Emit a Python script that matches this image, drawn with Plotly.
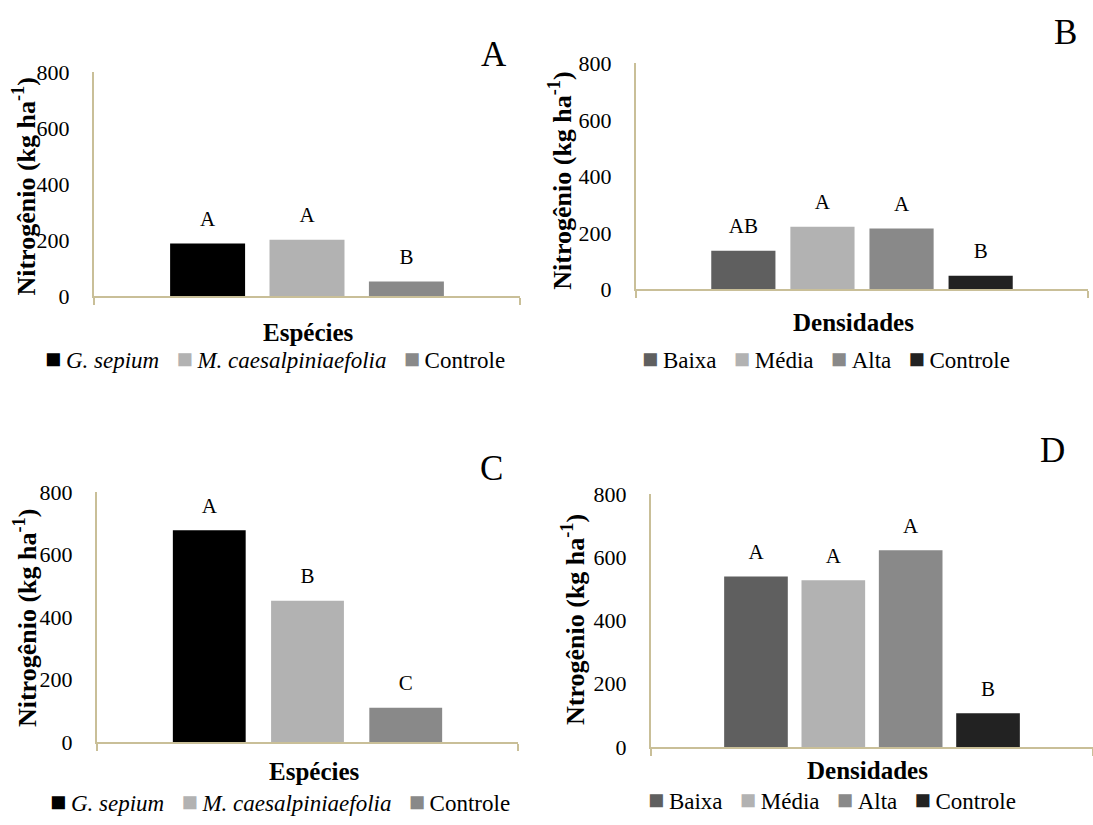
import plotly.graph_objects as go

# ---------------- data ----------------
especies = ["G. sepium", "M. caesalpiniaefolia", "Controle"]
especies_italic = [True, True, False]
densidades = ["Baixa", "Média", "Alta", "Controle"]

n_A = [188, 201, 52]
letters_A = ["A", "A", "B"]
n_B = [137, 222, 215, 48]
letters_B = ["AB", "A", "A", "B"]
n_C = [678, 452, 110]
letters_C = ["A", "B", "C"]
n_D = [539, 527, 622, 107]
letters_D = ["A", "A", "A", "B"]

y_ticks = [0, 200, 400, 600, 800]

# ---------------- styles ----------------
col_esp = ["#000000", "#b2b2b2", "#898989"]
col_den = ["#5f5f5f", "#b2b2b2", "#898989", "#222222"]
AXIS_COL = "#c9bf98"
FONT = "Liberation Serif"
W, H = 1093, 825

fig = go.Figure()

# key, category label, series, colors, values, letters, xa, ya, bar width (axis units)
panels = [
    ("A", "Espécies", especies, col_esp, n_A, letters_A, "x", "y", 0.176),
    ("B", "Densidades", densidades, col_den, n_B, letters_B, "x2", "y2", 0.142),
    ("C", "Espécies", especies, col_esp, n_C, letters_C, "x3", "y3", 0.173),
    ("D", "Densidades", densidades, col_den, n_D, letters_D, "x4", "y4", 0.144),
]

for key, cat, series, cols, vals, lets, xa, ya, bw in panels:
    for i, (s, c, v, l) in enumerate(zip(series, cols, vals, lets)):
        fig.add_trace(go.Bar(
            x=[cat], y=[v], name=s, width=bw,
            marker=dict(color=c, line=dict(width=0)),
            offsetgroup=f"{key}{i}", xaxis=xa, yaxis=ya, showlegend=False,
        ))
        fig.add_trace(go.Scatter(
            x=[cat], y=[v], text=[l], mode="markers+text", textposition="top center",
            marker=dict(size=18, color="rgba(0,0,0,0)"), orientation="v",
            textfont=dict(family=FONT, size=21, color="black"),
            offsetgroup=f"{key}{i}", xaxis=xa, yaxis=ya, showlegend=False,
            hoverinfo="skip", cliponaxis=False,
        ))

def px2x(p):
    return p / W

def px2y(p):
    return 1 - p / H

# domains in pixels: (x0, x1, y_zero, y_top)
dom = {
    "A": (94, 520, 293, 62),
    "B": (636, 1088, 286, 53),
    "C": (97, 518, 753, 495),
    "D": (651, 1097, 758, 497),
}
names = {"A": ("xaxis", "yaxis", "y", "x"), "B": ("xaxis2", "yaxis2", "y2", "x2"),
         "C": ("xaxis3", "yaxis3", "y3", "x3"), "D": ("xaxis4", "yaxis4", "y4", "x4")}

layout_axes = {}
for k, (x0, x1, yz, yt) in dom.items():
    xn, yn, yanc, xanc = names[k]
    layout_axes[xn] = dict(
        domain=[px2x(x0), min(1.0, px2x(x1))], anchor=yanc, type="category",
        showline=True, linecolor=AXIS_COL, linewidth=2,
        ticks="outside", tickson="boundaries", ticklen=7, tickwidth=2, tickcolor=AXIS_COL,
        showticklabels=False, showgrid=False, zeroline=False, fixedrange=True,
    )
    layout_axes[yn] = dict(
        domain=[px2y(yz), px2y(yt)], anchor=xanc, range=[0, 800],
        tickvals=y_ticks, ticktext=[str(t) for t in y_ticks],
        showline=True, linecolor=AXIS_COL, linewidth=2, ticks="",
        showgrid=False, zeroline=False, fixedrange=True,
        tickfont=dict(family=FONT, size=22, color="black"),
        ticklabelstandoff=18,
    )

ann = []
def add_text(text, x, y, size, angle=0, bold=False):
    ann.append(dict(
        text=f"<b>{text}</b>" if bold else text, x=px2x(x), y=px2y(y),
        xref="paper", yref="paper", xanchor="center", yanchor="middle",
        showarrow=False, textangle=angle,
        font=dict(family=FONT, size=size, color="black"),
    ))

# panel letters
add_text("A", 494, 44, 35)
add_text("B", 1065, 21, 35)
add_text("C", 491, 471, 35)
add_text("D", 1052, 452, 35)

# y titles
ytitle = "Nitrogênio (kg ha<sup>-1</sup>)"
ytitle_d = "Ntrogênio (kg ha<sup>-1</sup>)"
add_text(ytitle, 25, 180, 26, -90, True)
add_text(ytitle, 561, 174, 26, -90, True)
add_text(ytitle, 25, 625, 26, -90, True)
add_text(ytitle_d, 573, 627, 26, -90, True)

# x titles
add_text("Espécies", 308, 330, 25, bold=True)
add_text("Densidades", 853, 320, 25, bold=True)
add_text("Espécies", 314, 783, 25, bold=True)
add_text("Densidades", 867, 782, 25, bold=True)

# legends (built from series names and colors)
def legend_text(series, cols, italic=None):
    parts = []
    for i, (s, c) in enumerate(zip(series, cols)):
        lab = f"<i>{s}</i>" if (italic and italic[i]) else s
        parts.append(f"<span style='color:{c};font-size:27px'>■</span>\u2009{lab}")
    return "\u00a0\u00a0\u00a0".join(parts)

add_text(legend_text(especies, col_esp, especies_italic), 275, 358, 23)
add_text(legend_text(densidades, col_den), 826, 358, 23)
add_text(legend_text(especies, col_esp, especies_italic), 280, 815, 23)
add_text(legend_text(densidades, col_den), 832, 813, 23)

fig.update_layout(
    width=W, height=H, margin=dict(l=0, r=0, t=0, b=0),
    paper_bgcolor="white", plot_bgcolor="white",
    barmode="group", bargap=0.30, bargroupgap=0,
    scattermode="group",
    showlegend=False, annotations=ann,
    font=dict(family=FONT, color="black"),
    **layout_axes,
)

fig.write_html("out.html")
